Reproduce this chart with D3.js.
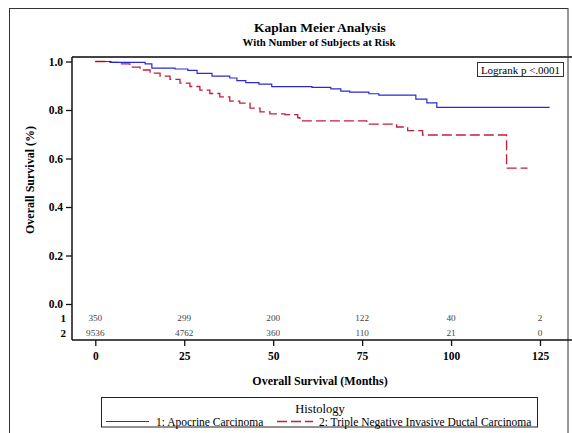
<!DOCTYPE html>
<html>
<head>
<meta charset="utf-8">
<script src="https://cdn.jsdelivr.net/npm/d3@7"></script>
<style>
  html, body { margin: 0; padding: 0; background: #fff; }
  svg { display: block; font-family: "Liberation Serif", "Times New Roman", serif; }
</style>
</head>
<body>
<svg id="chart" width="572" height="433"></svg>
<script>
// Kaplan–Meier survival steps (months, survival proportion)
const apocrineTimes = [0, 4.4, 14, 15.9, 22.4, 26, 28.6, 32.8, 37.8, 39.8, 42.3, 46, 49.6, 60.9, 66.2, 69, 71.5, 76.9, 79.7, 90.1, 93.2, 96];
const apocrineSurv  = [1.0, 0.996, 0.990, 0.973, 0.969, 0.963, 0.951, 0.940, 0.932, 0.921, 0.913, 0.907, 0.896, 0.893, 0.887, 0.878, 0.874, 0.867, 0.861, 0.845, 0.829, 0.811];
const apocrineEnd = 127.7;

const tnTimes = [0, 4.1, 6.9, 9.7, 12.6, 15.4, 18.2, 21.0, 23.8, 26.6, 29.4, 32.2, 35.0, 37.8, 40.6, 43.5, 46.3, 49.1, 53.3, 56.9, 57.5, 76.3, 84.7, 87.8, 92, 115.6];
const tnSurv  = [1.0, 0.996, 0.990, 0.977, 0.965, 0.952, 0.940, 0.926, 0.911, 0.897, 0.882, 0.868, 0.854, 0.837, 0.828, 0.808, 0.792, 0.784, 0.781, 0.768, 0.755, 0.742, 0.730, 0.715, 0.697, 0.560];
const tnEnd = 121.5;

// Number at risk table
const riskTimes = [0, 25, 50, 75, 100, 125];
const riskApocrine = [350, 299, 200, 122, 40, 2];
const riskTN = [9536, 4762, 360, 110, 21, 0];

const xTicks = [0, 25, 50, 75, 100, 125];
const yTicks = [0.0, 0.2, 0.4, 0.6, 0.8, 1.0];

const groupLabels = ["1: Apocrine Carcinoma", "2: Triple Negative Invasive Ductal Carcinoma"];
const groupColors = ["#2a2ad2", "#c41e3a"];

const svg = d3.select("#chart");

// Outer graph frame
svg.append("rect")
  .attr("x", 9.5).attr("y", 8.5).attr("width", 558.5).attr("height", 440)
  .attr("fill", "none").attr("stroke", "#333").attr("stroke-width", 1);

// Titles
svg.append("text").attr("x", 320).attr("y", 31.5).attr("text-anchor", "middle")
  .attr("font-size", 13.5).attr("font-weight", "bold").text("Kaplan Meier Analysis");
svg.append("text").attr("x", 319).attr("y", 46).attr("text-anchor", "middle")
  .attr("font-size", 10.8).attr("font-weight", "bold").text("With Number of Subjects at Risk");

// Scales
const x = d3.scaleLinear().domain([0, 125]).range([95.3, 540]);
const y = d3.scaleLinear().domain([0, 1]).range([304, 61.5]);

const plotLeft = 72, plotTop = 57, plotRight = 575, plotBottom = 340;

// Plot frame
svg.append("line").attr("x1", plotLeft).attr("x2", plotRight).attr("y1", plotTop).attr("y2", plotTop)
  .attr("stroke", "#444").attr("stroke-width", 2);
svg.append("line").attr("x1", plotLeft).attr("x2", plotRight).attr("y1", plotBottom).attr("y2", plotBottom)
  .attr("stroke", "#111").attr("stroke-width", 1.5);
svg.append("line").attr("x1", plotLeft).attr("x2", plotLeft).attr("y1", plotTop).attr("y2", plotBottom)
  .attr("stroke", "#111").attr("stroke-width", 1.5);

// Y axis
const yAxis = d3.axisLeft(y).tickValues(yTicks).tickFormat(d3.format(".1f")).tickSize(6).tickPadding(3);
const gy = svg.append("g").attr("transform", `translate(${plotLeft},0)`).call(yAxis);
gy.select(".domain").remove();
gy.selectAll(".tick line").attr("stroke", "#111").attr("stroke-width", 1.3);
gy.selectAll(".tick text").attr("font-family", "Liberation Serif").attr("font-size", 11.5)
  .attr("font-weight", "bold").attr("fill", "#000");

// X axis
const xAxis = d3.axisBottom(x).tickValues(xTicks).tickSize(6).tickPadding(6);
const gx = svg.append("g").attr("transform", `translate(0,${plotBottom})`).call(xAxis);
gx.select(".domain").remove();
gx.selectAll(".tick line").attr("stroke", "#111").attr("stroke-width", 1.3);
gx.selectAll(".tick text").attr("font-family", "Liberation Serif").attr("font-size", 11.5)
  .attr("font-weight", "bold").attr("fill", "#000");

// Axis titles
svg.append("text").attr("x", 320).attr("y", 385).attr("text-anchor", "middle")
  .attr("font-size", 12).attr("font-weight", "bold").text("Overall Survival (Months)");
svg.append("text").attr("transform", "translate(34,180) rotate(-90)").attr("text-anchor", "middle")
  .attr("font-size", 12).attr("font-weight", "bold").text("Overall Survival (%)");

// Survival step curves
function stepData(times, surv, end) {
  const pts = times.map((t, i) => [t, surv[i]]);
  pts.push([end, surv[surv.length - 1]]);
  return pts;
}
const line = d3.line().x(d => x(d[0])).y(d => y(d[1])).curve(d3.curveStepAfter);

svg.append("path").datum(stepData(tnTimes, tnSurv, tnEnd))
  .attr("d", line).attr("fill", "none").attr("stroke", groupColors[1])
  .attr("stroke-width", 1.3).attr("stroke-dasharray", "10,4");
svg.append("path").datum(stepData(apocrineTimes, apocrineSurv, apocrineEnd))
  .attr("d", line).attr("fill", "none").attr("stroke", groupColors[0]).attr("stroke-width", 1.2);

// Logrank inset
svg.append("rect").attr("x", 477.5).attr("y", 62.5).attr("width", 86).attr("height", 14)
  .attr("fill", "#fff").attr("stroke", "#333").attr("stroke-width", 1);
svg.append("text").attr("x", 520.5).attr("y", 73.5).attr("text-anchor", "middle")
  .attr("font-size", 11).text("Logrank p <.0001");

// At-risk table
const riskRows = [riskApocrine, riskTN];
const rowY = [322, 337];
riskRows.forEach((row, r) => {
  svg.append("text").attr("x", 66).attr("y", rowY[r]).attr("text-anchor", "end")
    .attr("font-size", 11).attr("font-weight", "bold").text(String(r + 1));
  svg.selectAll(null).data(row).enter().append("text")
    .attr("x", (d, i) => x(riskTimes[i])).attr("y", rowY[r] - 1).attr("text-anchor", "middle")
    .attr("font-size", 9.2).attr("fill", "#444").text(d => d);
});

// Legend
const lg = svg.append("g");
lg.append("rect").attr("x", 101.5).attr("y", 397.5).attr("width", 436).attr("height", 29.5)
  .attr("fill", "#fff").attr("stroke", "#222").attr("stroke-width", 1);
lg.append("text").attr("x", 320).attr("y", 412.5).attr("text-anchor", "middle")
  .attr("font-size", 12.5).text("Histology");
lg.append("line").attr("x1", 106).attr("x2", 149).attr("y1", 421.5).attr("y2", 421.5)
  .attr("stroke", groupColors[0]).attr("stroke-width", 1.2);
lg.append("text").attr("x", 156).attr("y", 425.5).attr("font-size", 11.5).text(groupLabels[0]);
lg.append("line").attr("x1", 277).attr("x2", 313).attr("y1", 421.5).attr("y2", 421.5)
  .attr("stroke", groupColors[1]).attr("stroke-width", 1.3).attr("stroke-dasharray", "10,4");
lg.append("text").attr("x", 319).attr("y", 425.5).attr("font-size", 11.5).text(groupLabels[1]);
</script>
</body>
</html>
